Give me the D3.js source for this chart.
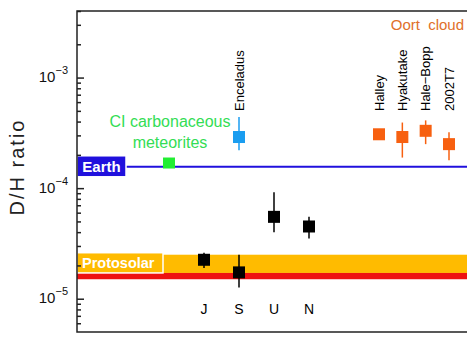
<!DOCTYPE html>
<html><head><meta charset="utf-8">
<script src="https://cdn.jsdelivr.net/npm/d3@7"></script>
<style>
html,body{margin:0;padding:0;background:#fff;overflow:hidden}
text{font-family:"Liberation Sans",Arial,sans-serif}
</style></head>
<body><svg id="c" width="467" height="346"></svg>
<script>
// ---- data ----
const planetNames = ["J","S","U","N"];
const planetPos   = [5,6,7,8];
const planetDH    = [2.25e-5, 1.73e-5, 5.5e-5, 4.5e-5];
const planetLo    = [1.9e-5, 1.26e-5, 4.0e-5, 3.5e-5];
const planetHi    = [2.6e-5, 2.5e-5, 9.2e-5, 5.5e-5];

const cometNames = ["Halley","Hyakutake","Hale\u2212Bopp","2002T7"];
const cometPos   = [10, 10.667, 11.333, 12];
const cometDH    = [3.07e-4, 2.9e-4, 3.3e-4, 2.5e-4];
const cometLo    = [2.95e-4, 1.89e-4, 2.5e-4, 1.79e-4];
const cometHi    = [3.2e-4, 3.92e-4, 4.1e-4, 3.2e-4];

const encName = ["Enceladus"];
const encPos  = [6];
const encDH   = [2.9e-4];
const encLo   = [2.2e-4];
const encHi   = [4.4e-4];

const ciPos = [4];
const ciDH  = [1.67e-4];
const ciText = ["CI carbonaceous","meteorites"];

const earthDH = [1.56e-4];
const protoBand = [1.71e-5, 2.5e-5];
const redBand   = [1.5e-5, 1.71e-5];

const yDomain = [5e-6, 4e-3];
const majorTicks = [1e-5, 1e-4, 1e-3];
const majorExp = ["\u22125","\u22124","\u22123"];
const minorTicks = [];
[1e-6,1e-5,1e-4,1e-3].forEach(d=>{for(let m=2;m<=9;m++){const v=m*d; if(v>=yDomain[0]&&v<=yDomain[1]) minorTicks.push(v);}});

// ---- layout ----
const svg = d3.select("#c");
const L=77, T=11, B=332, R=467;
const y = d3.scaleLog().domain(yDomain).range([B,T]);
const x = d3.scaleLinear().domain([0,12]).range([29,449]);

// bands
svg.append("rect").attr("x",L).attr("width",R-L)
  .attr("y",y(protoBand[1])).attr("height",y(protoBand[0])-y(protoBand[1])).attr("fill","#ffbb00");
svg.append("rect").attr("x",L).attr("width",R-L)
  .attr("y",y(redBand[1])).attr("height",y(redBand[0])-y(redBand[1])).attr("fill","#ee1111");

// Earth line
svg.append("line").attr("x1",L).attr("x2",R).attr("y1",y(earthDH[0])).attr("y2",y(earthDH[0]))
  .attr("stroke","#2010dd").attr("stroke-width",2);

// error bars + squares
function pts(pos, val, lo, hi, color){
  const g = svg.append("g");
  g.selectAll("line").data(pos).join("line")
    .attr("x1",(d)=>x(d)).attr("x2",(d)=>x(d))
    .attr("y1",(d,i)=>y(hi[i])).attr("y2",(d,i)=>y(lo[i]))
    .attr("stroke",color).attr("stroke-width",1.5);
  g.selectAll("rect").data(pos).join("rect")
    .attr("x",(d)=>x(d)-6).attr("y",(d,i)=>y(val[i])-6)
    .attr("width",12).attr("height",12).attr("fill",color);
}
pts(planetPos, planetDH, planetLo, planetHi, "#000");
pts(cometPos, cometDH, cometLo, cometHi, "#f76010");
pts(encPos, encDH, encLo, encHi, "#1a9df0");
svg.selectAll(".ci").data(ciPos).join("rect").attr("class","ci")
  .attr("x",d=>x(d)-6).attr("y",(d,i)=>y(ciDH[i])-6).attr("width",12).attr("height",11).attr("fill","#22ee33");

// labels boxes
const ey = y(earthDH[0]);
svg.append("rect").attr("x",L).attr("y",ey-11).attr("width",49).attr("height",21)
  .attr("fill","#2010dd").attr("stroke","#fff").attr("stroke-width",1.5);
svg.append("text").attr("x",L+24.5).attr("y",ey+5).attr("text-anchor","middle")
  .attr("font-size",15).attr("font-weight","bold").attr("fill","#fff").text("Earth");

const py0 = y(protoBand[1])-2, py1 = y(protoBand[0]);
svg.append("rect").attr("x",L).attr("y",py0).attr("width",86).attr("height",py1-py0)
  .attr("fill","#ffbb00").attr("stroke","#fff").attr("stroke-width",1.5);
svg.append("text").attr("x",L+5).attr("y",(py0+py1)/2+5).attr("font-size",14.5)
  .attr("font-weight","bold").attr("fill","#fff").text("Protosolar");

// rotated labels
function rotLabels(names,pos,color){
  svg.selectAll(null).data(names).join("text")
    .attr("transform",(d,i)=>`translate(${x(pos[i])+4.5},111) rotate(-90)`)
    .attr("font-size",13).attr("fill",color).text(d=>d);
}
rotLabels(cometNames, cometPos, "#000");
rotLabels(encName, encPos, "#000");

// x labels
svg.selectAll(null).data(planetNames).join("text")
  .attr("x",(d,i)=>x(planetPos[i])).attr("y",314).attr("text-anchor","middle")
  .attr("font-size",14).attr("fill","#000").text(d=>d);

// CI text
svg.selectAll(null).data(ciText).join("text")
  .attr("x",x(ciPos[0])+1).attr("y",(d,i)=>127+i*21).attr("text-anchor","middle")
  .attr("font-size",16).attr("fill","#33dd55").text(d=>d);

// Oort cloud
svg.append("text").attr("x",464).attr("y",30).attr("text-anchor","end")
  .attr("font-size",15).attr("word-spacing",4).attr("fill","#e0702a").text("Oort cloud");

// axes ticks
const gMaj = svg.append("g").attr("transform",`translate(${L},0)`)
  .call(d3.axisRight(y).tickValues(majorTicks).tickSize(7).tickFormat(""));
const gMin = svg.append("g").attr("transform",`translate(${L},0)`)
  .call(d3.axisRight(y).tickValues(minorTicks).tickSize(4).tickFormat(""));
[gMaj,gMin].forEach(g=>{g.select(".domain").remove(); g.selectAll("line").attr("stroke","#222").attr("stroke-width",1.5);});

// tick labels
const tl = svg.selectAll(null).data(majorTicks).join("text")
  .attr("x",68).attr("y",d=>y(d)+4.5).attr("text-anchor","end").attr("fill","#111");
tl.append("tspan").attr("font-size",15).text("10");
tl.append("tspan").attr("font-size",11).attr("dy",-8).text((d,i)=>majorExp[i]);

// frame
svg.append("path").attr("d",`M${R},${T}H${L}V${B}H${R}`).attr("fill","none")
  .attr("stroke","#222").attr("stroke-width",1.5);

// y title
svg.append("text").attr("transform","translate(24,167) rotate(-90)").attr("text-anchor","middle")
  .attr("font-size",20).attr("letter-spacing",2).attr("fill","#222").text("D/H ratio");
</script></body></html>
